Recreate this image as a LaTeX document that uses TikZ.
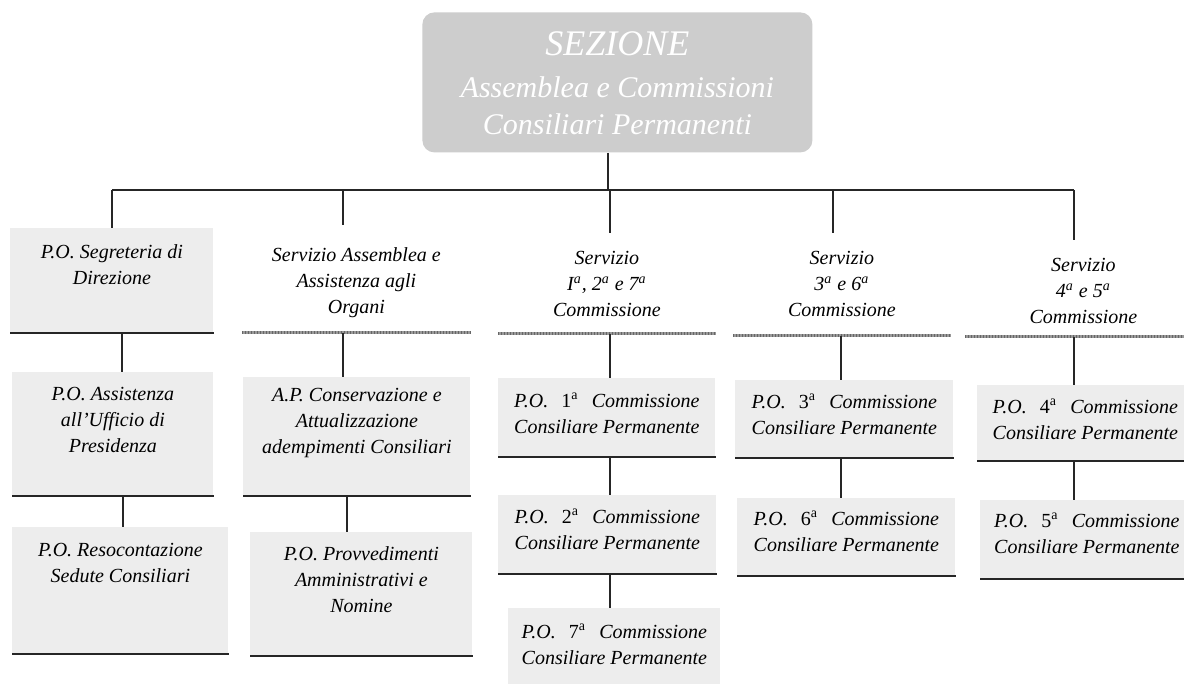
\documentclass[tikz,border=0pt]{standalone}
\usepackage{fontspec}
\setmainfont{Liberation Serif}
\usetikzlibrary{calc}

\definecolor{cellgray}{HTML}{EDEDED}
\definecolor{titlegray}{HTML}{CDCDCD}
\definecolor{rulegray}{HTML}{9A9A9A}

\newsavebox\permbox
% fixed-size box, text centred and hung from the top
\newcommand\cellbox[4]{\begin{minipage}[c][#2][t]{#1}\centering\vspace*{#3}#4\end{minipage}}
% "P.O.  n^a  Commissione" spread to the width of the second line
\newcommand\pocomm[1]{\sbox\permbox{Consiliare Permanente}%
  \leavevmode\hbox to \wd\permbox{P.O.\hfil\textup{#1\textsuperscript{a}}\hfil Commissione}\\Consiliare Permanente}

\begin{document}
\begin{tikzpicture}[x=0.5pt,y=-0.5pt,
  txt/.style={inner sep=0pt, anchor=north west, font=\itshape\fontsize{10}{13}\selectfont},
  cell/.style={txt, fill=cellgray},
  head/.style={txt},
  topbox/.style={inner sep=0pt, anchor=north west, fill=titlegray, rounded corners=6pt,
    text=white, font=\itshape},
  conn/.style={line width=0.6pt, black!85},
  baserule/.style={line width=1.1pt, black!85},
  dotrule/.style={line width=1.6pt, rulegray},
  dotover/.style={line width=1.6pt, black!60, dash pattern=on 0.6pt off 0.9pt}]

\useasboundingbox[fill=white] (0,0) rectangle (1184,684);

% top unit
\node[topbox] (title) at (422,12) {\cellbox{195pt}{70pt}{9.6pt}{%
  {\fontsize{18}{19}\selectfont SEZIONE\par}\vspace{2.5pt}%
  {\fontsize{15}{18.5}\selectfont Assemblea e Commissioni\\Consiliari Permanenti\par}}};

% column 1
\node[cell] (seg) at (10,228) {\cellbox{101.5pt}{52pt}{8pt}{P.O. Segreteria di\\Direzione}};
\node[cell] (ass) at (12,372) {\cellbox{100.5pt}{61.5pt}{7.5pt}{P.O. Assistenza\\all’Ufficio di\\Presidenza}};
\node[cell] (res) at (12,527) {\cellbox{108pt}{63pt}{8pt}{P.O. Resocontazione\\Sedute Consiliari}};

% column 2
\node[head] (hAss) at (242,225) {\cellbox{114pt}{53.5pt}{11pt}{Servizio Assemblea e\\Assistenza agli\\Organi}};
\node[cell] (ap) at (243,377) {\cellbox{113.5pt}{59pt}{5.5pt}{A.P. Conservazione e\\Attualizzazione\\adempimenti Consiliari}};
\node[cell] (pp) at (250,532) {\cellbox{111pt}{61.5pt}{7pt}{P.O. Provvedimenti\\Amministrativi e\\Nomine}};

% column 3
\node[head] (hC1) at (498,233) {\cellbox{108.5pt}{50pt}{9pt}{Servizio\\I\textsuperscript{a}, 2\textsuperscript{a} e 7\textsuperscript{a}\\Commissione}};
\node[cell] (po1) at (498,378) {\cellbox{108.5pt}{39pt}{7.5pt}{\pocomm{1}}};
\node[cell] (po2) at (498,495) {\cellbox{109pt}{39pt}{7pt}{\pocomm{2}}};
\node[cell] (po7) at (508,608) {\cellbox{106pt}{41pt}{8pt}{\pocomm{7}}};

% column 4
\node[head] (hC2) at (733,233) {\cellbox{108.5pt}{51pt}{9pt}{Servizio\\3\textsuperscript{a} e 6\textsuperscript{a}\\Commissione}};
\node[cell] (po3) at (735,380) {\cellbox{109pt}{38.5pt}{7pt}{\pocomm{3}}};
\node[cell] (po6) at (737,498) {\cellbox{109pt}{38.5pt}{6.5pt}{\pocomm{6}}};

% column 5
\node[head] (hC3) at (965,240) {\cellbox{118pt}{48pt}{9pt}{Servizio\\4\textsuperscript{a} e 5\textsuperscript{a}\\Commissione}};
\node[cell] (po4) at (977,385) {\cellbox{108pt}{37.5pt}{7pt}{\pocomm{4}}};
\node[cell] (po5) at (980,500) {\cellbox{106.5pt}{39pt}{6.5pt}{\pocomm{5}}};

% rules under the boxes
\foreach \n in {seg,ass,res,ap,pp,po1,po2,po3,po6,po4,po5}
  \draw[baserule] (\n.south west) -- (\n.south east);
\foreach \n in {hAss,hC1,hC2,hC3} {
  \draw[dotrule] (\n.south west) -- (\n.south east);
  \draw[dotover] (\n.south west) -- (\n.south east);
}

% bus and drop points
\coordinate (b0) at (608,190);
\coordinate (b1) at (112,190);
\coordinate (b2) at (343,190);
\coordinate (b3) at (610,190);
\coordinate (b4) at (833,190);
\coordinate (b5) at (1074,190);
\coordinate (c1a) at (122,0);
\coordinate (c1b) at (123,0);
\coordinate (c2a) at (343,0);
\coordinate (c2b) at (347,0);
\coordinate (c3) at (610,0);
\coordinate (c4) at (841,0);
\coordinate (c5) at (1074,0);

\draw[conn] (title.south -| b0) -- (b0);
\draw[conn] (b1) -- (b5);
\draw[conn] (b1) -- (seg.north -| b1);
\draw[conn] (b2) -- (hAss.north -| b2);
\draw[conn] (b3) -- (hC1.north -| b3);
\draw[conn] (b4) -- (hC2.north -| b4);
\draw[conn] (b5) -- (hC3.north -| b5);

\draw[conn] (seg.south -| c1a) -- (ass.north -| c1a);
\draw[conn] (ass.south -| c1b) -- (res.north -| c1b);
\draw[conn] (hAss.south -| c2a) -- (ap.north -| c2a);
\draw[conn] (ap.south -| c2b) -- (pp.north -| c2b);
\draw[conn] (hC1.south -| c3) -- (po1.north -| c3);
\draw[conn] (po1.south -| c3) -- (po2.north -| c3);
\draw[conn] (po2.south -| c3) -- (po7.north -| c3);
\draw[conn] (hC2.south -| c4) -- (po3.north -| c4);
\draw[conn] (po3.south -| c4) -- (po6.north -| c4);
\draw[conn] (hC3.south -| c5) -- (po4.north -| c5);
\draw[conn] (po4.south -| c5) -- (po5.north -| c5);
\end{tikzpicture}
\end{document}
